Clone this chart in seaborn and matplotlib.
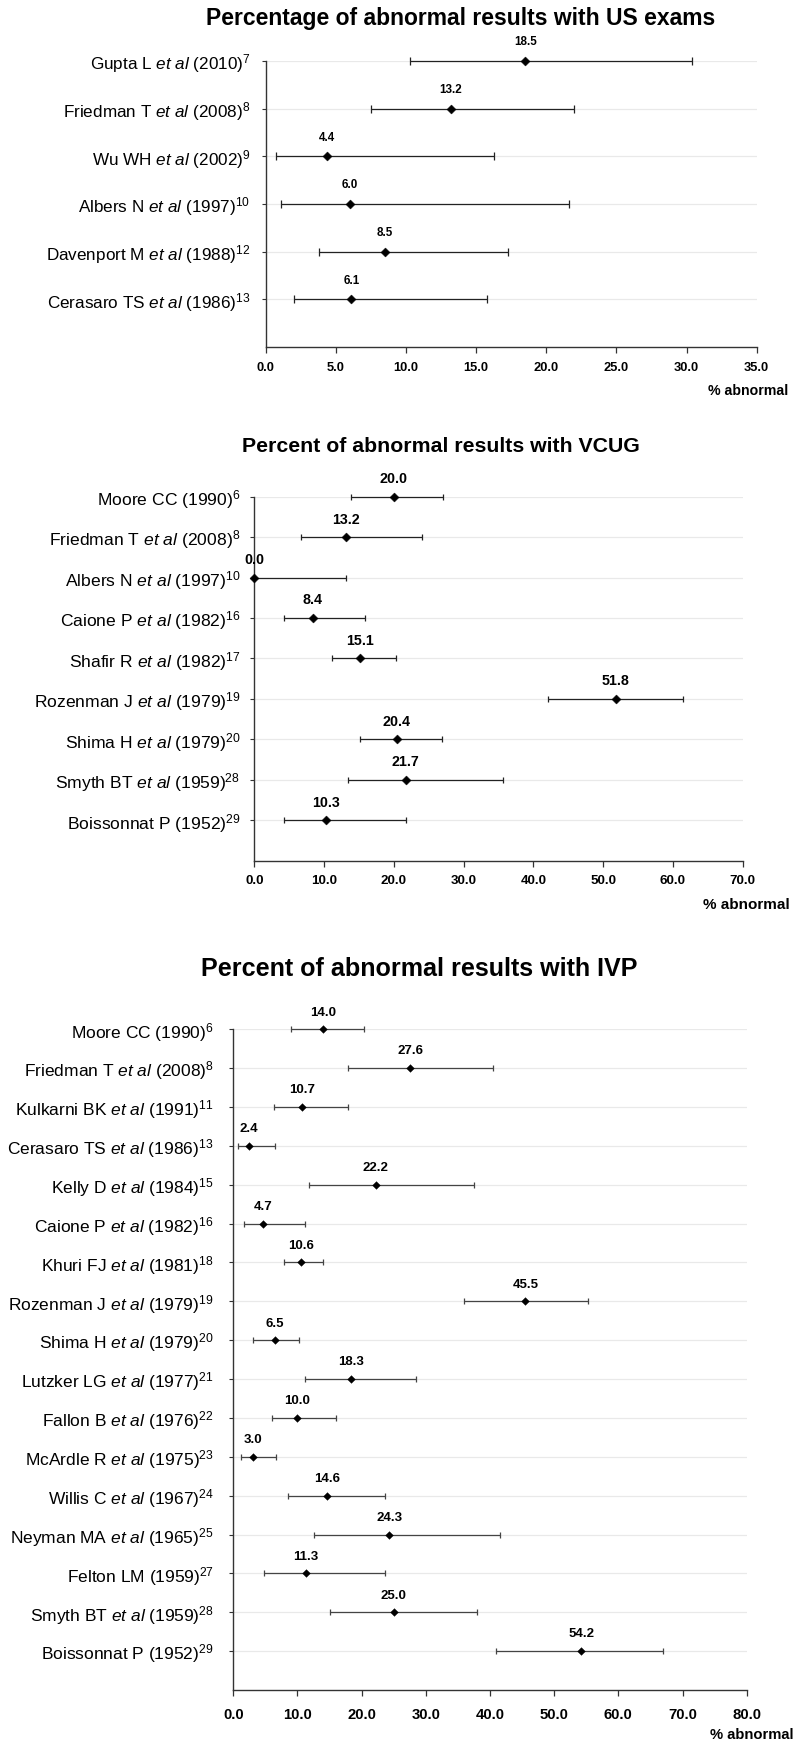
import numpy as np
import pandas as pd
import seaborn as sns
import matplotlib.pyplot as plt
from matplotlib.transforms import ScaledTranslation

# --- US exams ---
us_labels = [r"Gupta L $\mathit{et\ al}$ (2010)$^{7}$",
             r"Friedman T $\mathit{et\ al}$ (2008)$^{8}$",
             r"Wu WH $\mathit{et\ al}$ (2002)$^{9}$",
             r"Albers N $\mathit{et\ al}$ (1997)$^{10}$",
             r"Davenport M $\mathit{et\ al}$ (1988)$^{12}$",
             r"Cerasaro TS $\mathit{et\ al}$ (1986)$^{13}$"]
us_pct = [18.5, 13.2, 4.4, 6.0, 8.5, 6.1]
us_low = [10.3, 7.5, 0.7, 1.1, 3.8, 2.0]
us_high = [30.4, 22.0, 16.3, 21.6, 17.3, 15.8]

# --- VCUG ---
vcug_labels = [r"Moore CC (1990)$^{6}$",
               r"Friedman T $\mathit{et\ al}$ (2008)$^{8}$",
               r"Albers N $\mathit{et\ al}$ (1997)$^{10}$",
               r"Caione P $\mathit{et\ al}$ (1982)$^{16}$",
               r"Shafir R $\mathit{et\ al}$ (1982)$^{17}$",
               r"Rozenman J $\mathit{et\ al}$ (1979)$^{19}$",
               r"Shima H $\mathit{et\ al}$ (1979)$^{20}$",
               r"Smyth BT $\mathit{et\ al}$ (1959)$^{28}$",
               r"Boissonnat P (1952)$^{29}$"]
vcug_pct = [20.0, 13.2, 0.0, 8.4, 15.1, 51.8, 20.4, 21.7, 10.3]
vcug_low = [13.8, 6.7, 0.0, 4.3, 11.1, 42.1, 15.2, 13.5, 4.3]
vcug_high = [27.1, 24.1, 13.1, 15.9, 20.3, 61.4, 26.9, 35.6, 21.8]

# --- IVP ---
ivp_labels = [r"Moore CC (1990)$^{6}$",
              r"Friedman T $\mathit{et\ al}$ (2008)$^{8}$",
              r"Kulkarni BK $\mathit{et\ al}$ (1991)$^{11}$",
              r"Cerasaro TS $\mathit{et\ al}$ (1986)$^{13}$",
              r"Kelly D $\mathit{et\ al}$ (1984)$^{15}$",
              r"Caione P $\mathit{et\ al}$ (1982)$^{16}$",
              r"Khuri FJ $\mathit{et\ al}$ (1981)$^{18}$",
              r"Rozenman J $\mathit{et\ al}$ (1979)$^{19}$",
              r"Shima H $\mathit{et\ al}$ (1979)$^{20}$",
              r"Lutzker LG $\mathit{et\ al}$ (1977)$^{21}$",
              r"Fallon B $\mathit{et\ al}$ (1976)$^{22}$",
              r"McArdle R $\mathit{et\ al}$ (1975)$^{23}$",
              r"Willis C $\mathit{et\ al}$ (1967)$^{24}$",
              r"Neyman MA $\mathit{et\ al}$ (1965)$^{25}$",
              r"Felton LM (1959)$^{27}$",
              r"Smyth BT $\mathit{et\ al}$ (1959)$^{28}$",
              r"Boissonnat P (1952)$^{29}$"]
ivp_pct = [14.0, 27.6, 10.7, 2.4, 22.2, 4.7, 10.6, 45.5, 6.5, 18.3, 10.0, 3.0,
           14.6, 24.3, 11.3, 25.0, 54.2]
ivp_low = [9.0, 17.8, 6.3, 0.8, 11.8, 1.7, 7.9, 36.0, 3.0, 11.2, 6.1, 1.25,
           8.5, 12.5, 4.8, 15.1, 40.9]
ivp_high = [20.4, 40.5, 17.8, 6.5, 37.5, 11.2, 13.9, 55.3, 10.2, 28.4, 16.0, 6.7,
            23.6, 41.6, 23.6, 38.0, 67.0]

sns.set_theme(style="white")
plt.rcParams["font.family"] = ["Liberation Sans", "DejaVu Sans"]
plt.rcParams["mathtext.fontset"] = "custom"
plt.rcParams["mathtext.rm"] = "Liberation Sans"
plt.rcParams["mathtext.it"] = "Liberation Sans:italic"
plt.rcParams["mathtext.bf"] = "Liberation Sans:bold"
for k in ["text.color", "axes.labelcolor", "xtick.color", "ytick.color"]:
    plt.rcParams[k] = "black"

W, H = 797, 1745
fig = plt.figure(figsize=(W / 100, H / 100), dpi=100)


def px_axes(left, top, right, bottom):
    return fig.add_axes([left / W, 1 - bottom / H, (right - left) / W, (bottom - top) / H])


def forest(ax, labels, pct, low, high, xmax, step, st):
    df = pd.DataFrame({"study": labels, "pct": pct, "low": low, "high": high})
    df["row"] = np.arange(len(df))
    n = len(df)
    eb = ax.errorbar(df["pct"], df["row"],
                     xerr=[df["pct"] - df["low"], df["high"] - df["pct"]],
                     fmt="none", ecolor=st["ecol"], elinewidth=0.9,
                     capsize=st["cap"], capthick=0.9, zorder=2)
    for art in eb.get_children():
        art.set_clip_on(False)
    sns.scatterplot(data=df, x="pct", y="row", marker="D", s=st["ms"] ** 2,
                    color="black", edgecolor="black", linewidth=0.3,
                    ax=ax, zorder=3, clip_on=False, legend=False)
    for _, r in df.iterrows():
        ax.annotate(f"{r.pct:.1f}", (r.pct, r.row), xytext=(0, st["off"]),
                    textcoords="offset points", ha="center", va="center",
                    fontsize=st["val"], fontweight="bold", annotation_clip=False)
    ax.set_xlim(0, xmax)
    ax.set_ylim(n, 0)
    ticks = np.arange(0, xmax + step / 2, step)
    ax.set_xticks(ticks)
    ax.set_xticklabels([f"{t:.1f}" for t in ticks], fontweight="bold", fontsize=st["tick"])
    ax.set_yticks(df["row"])
    ax.set_yticklabels(df["study"], fontsize=st["lab"])
    # study names sit a little above their row in the original
    shift = ScaledTranslation(0, st["lift"] / 100, fig.dpi_scale_trans)
    for lab in ax.get_yticklabels():
        lab.set_transform(lab.get_transform() + shift)
    ax.set_xlabel("")
    ax.set_ylabel("")
    ax.grid(axis="y", color="#e9e9e9", lw=0.9)
    ax.grid(axis="x", visible=False)
    sns.despine(ax=ax)
    for sp in ["left", "bottom"]:
        ax.spines[sp].set_color("#333333")
        ax.spines[sp].set_linewidth(1.0)
    ax.tick_params(axis="x", direction="out", length=4, width=0.9, color="#333333",
                   bottom=True, pad=st["xpad"])
    ax.tick_params(axis="y", direction="out", length=3, width=0.8, color="#333333",
                   left=True, pad=st["ypad"])


ax1 = px_axes(265.7, 61, 756.7, 347)
forest(ax1, us_labels, us_pct, us_low, us_high, 35, 5,
       dict(ecol="#222222", cap=2.8, ms=4.6, off=13.5, val=8.4, tick=9.3, lab=12.3,
            xpad=7, ypad=8, lift=3))
fig.text(461 / W, 1 - 18 / H, "Percentage of abnormal results with US exams",
         ha="center", va="center", fontsize=16.5, fontweight="bold")
fig.text(788 / W, 1 - 391 / H, "% abnormal", ha="right", va="center",
         fontsize=10.2, fontweight="bold")

ax2 = px_axes(254.3, 496.7, 742.7, 860.7)
forest(ax2, vcug_labels, vcug_pct, vcug_low, vcug_high, 70, 10,
       dict(ecol="#222222", cap=2.5, ms=4.6, off=12.7, val=10.3, tick=9.6, lab=12.6,
            xpad=6, ypad=7, lift=10))
fig.text(441 / W, 1 - 447 / H, "Percent of abnormal results with VCUG",
         ha="center", va="center", fontsize=15.3, fontweight="bold")
fig.text(790 / W, 1 - 905 / H, "% abnormal", ha="right", va="center",
         fontsize=11, fontweight="bold")

ax3 = px_axes(233.3, 1029.3, 746.7, 1690)
forest(ax3, ivp_labels, ivp_pct, ivp_low, ivp_high, 80, 10,
       dict(ecol="#444444", cap=2.1, ms=3.9, off=12, val=9.5, tick=10.7, lab=12.5,
            xpad=9, ypad=11, lift=7))
fig.text(419.5 / W, 1 - 969 / H, "Percent of abnormal results with IVP",
         ha="center", va="center", fontsize=18.1, fontweight="bold")
fig.text(793 / W, 1 - 1735 / H, "% abnormal", ha="right", va="center",
         fontsize=10.6, fontweight="bold")

fig.savefig("out.png", dpi=100, facecolor="white")
